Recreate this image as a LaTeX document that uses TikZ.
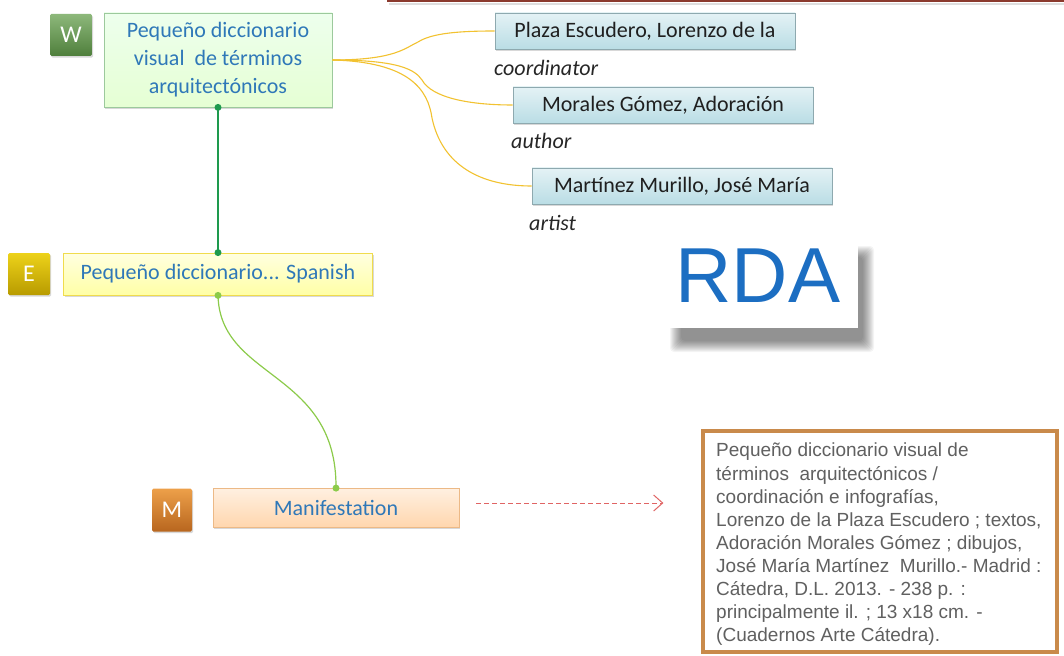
\documentclass[tikz,border=0pt]{standalone}
\usepackage{fontspec}
\setmainfont{Carlito}
\newfontfamily\arialfont{Liberation Sans}
\usetikzlibrary{shadows,arrows.meta}

\definecolor{txtblue}{HTML}{2F78B8}
\definecolor{wgreen}{HTML}{1E9A4E}
\definecolor{egreen}{HTML}{8CCB4A}
\definecolor{goldline}{HTML}{F2C230}
\definecolor{topred}{HTML}{8B3A2E}
\definecolor{dashred}{HTML}{E06464}
\definecolor{biblio}{HTML}{C98A4B}
\definecolor{bibtext}{HTML}{606060}
\definecolor{rdablue}{HTML}{1C6EC2}
\definecolor{agenttop}{HTML}{E4F2F5}
\definecolor{agentbot}{HTML}{BADDE5}
\definecolor{agentdraw}{HTML}{8EA9AF}
\definecolor{wtop}{HTML}{8DB87B}
\definecolor{wbot}{HTML}{4F7F3C}
\definecolor{etop}{HTML}{EDD21A}
\definecolor{ebot}{HTML}{B89B00}
\definecolor{mtop}{HTML}{EDA04A}
\definecolor{mbot}{HTML}{B8661E}

\tikzset{
  boxshadow/.style={drop shadow={opacity=0.3, shadow xshift=1.2pt, shadow yshift=-1.6pt}},
  badge/.style={boxshadow, minimum width=42pt, minimum height=42pt, inner sep=0pt,
    text=white, font=\fontsize{24}{26}\selectfont, rounded corners=1.5pt},
  entbox/.style={boxshadow, inner sep=0pt, text=txtblue, align=center,
    font=\fontsize{22}{28}\selectfont},
  agentbox/.style={boxshadow, draw=agentdraw, line width=0.8pt,
    top color=agenttop, bottom color=agentbot,
    minimum width=300pt, minimum height=36pt, inner sep=0pt,
    text=black!88, font=\fontsize{22}{26}\selectfont},
  role/.style={anchor=west, inner sep=0pt, font=\fontsize{22}{26}\selectfont\itshape, text=black!85},
  agentline/.style={draw=goldline, line width=1.1pt},
  dot/.style={circle, fill=#1, inner sep=0pt, minimum size=7pt},
}

\begin{document}
\begin{tikzpicture}[x=1pt,y=-1pt]
\useasboundingbox (0,0) rectangle (1064,655);
\fill[white] (0,0) rectangle (1064,655);

% edge of a frame along the top
\draw[black!25, line width=2pt, opacity=0.5] (389,4) -- (1064,4);
\draw[topred, line width=2.6pt] (387,1) -- (1064,1);

% soft shadow under the RDA card, built from stacked translucent layers
\foreach \i in {0,1,...,11}
  \fill[black, opacity=0.045, rounded corners=4pt]
    (670+\i,246+\i) rectangle (874-\i,352-\i);

% RDA label card
\node[fill=white, minimum width=198pt, minimum height=96pt, inner sep=0pt] (rdacard) at (759,280) {};
\node[text=rdablue, font=\arialfont\fontsize{78}{80}\selectfont, inner sep=0pt]
      (rda) at (758,276) {RDA};

% Work
\node[badge, top color=wtop, bottom color=wbot] (wb) at (71,35) {W};
\node[entbox, draw=green!30!gray!60, line width=0.8pt,
      top color=green!7!white, bottom color=green!45!lime!17,
      minimum width=228pt, minimum height=94pt] (work) at (218,60)
      {Pequeño diccionario\\visual\ \ de términos\\arquitectónicos};

% Agents and their roles
\node[agentbox] (plaza) at (645,31) {Plaza Escudero, Lorenzo de la};
\node[agentbox] (morales) at (663,105) {Morales Gómez, Adoración};
\node[agentbox] (martinez) at (682,186) {Martínez Murillo, José María};
\node[role] (rcoord) at (494,68) {coordinator};
\node[role] (rauth) at (511,141) {author};
\node[role] (rart) at (529,223) {artist};

\draw[agentline] (work.east) .. controls (395,60) and (405,48) .. (418,42)
                 .. controls (432,33) and (460,31) .. (plaza.west);
\draw[agentline] (work.east) .. controls (400,60) and (415,70) .. (422,80)
                 .. controls (432,98) and (470,105) .. (morales.west);
\draw[agentline] (work.east) .. controls (410,62) and (428,90) .. (432,118)
                 .. controls (442,165) and (480,186) .. (martinez.west);

% Expression
\node[badge, top color=etop, bottom color=ebot] (eb) at (29,274) {E};
\node[entbox, draw=yellow!70!brown!80, line width=0.8pt,
      top color=yellow!12!white, bottom color=yellow!35,
      minimum width=309pt, minimum height=42pt] (expr) at (218,274)
      {Pequeño diccionario... Spanish};

% Manifestation
\node[badge, minimum width=40pt, minimum height=43pt,
      top color=mtop, bottom color=mbot] (mb) at (172,510) {M};
\node[entbox, draw=orange!45!brown!55, line width=0.8pt,
      top color=orange!12!white, bottom color=orange!32,
      minimum width=246pt, minimum height=39pt] (mani) at (336,508) {Manifestation};

% Bibliographic description
\node[draw=biblio, line width=3.2pt, fill=white, minimum width=354pt, minimum height=221pt,
      inner sep=0pt] (desc) at (880,541.5) {};
\node[anchor=north west, inner sep=0pt, align=left, text=bibtext,
      font=\arialfont\fontsize{19}{23.1}\selectfont] (desctext) at (716,443)
{Pequeño diccionario visual de\\
términos\ \ arquitectónicos /\\
coordinación e infografías,\\
Lorenzo de la Plaza Escudero ; textos,\\
Adoración Morales Gómez ; dibujos,\\
José María Martínez\ \ Murillo.- Madrid :\\
Cátedra, D.L. 2013. - 238 p. :\\
principalmente il. ; 13 x18 cm. -\\
(Cuadernos Arte Cátedra).};

% Work -> Expression -> Manifestation links
\draw[wgreen, line width=1.3pt] (work.south) -- (expr.north);
\node[dot=wgreen] at (work.south) {};
\node[dot=wgreen] at (expr.north) {};
\draw[egreen, line width=1.2pt] (expr.south) .. controls (220,380) and (337,370) .. (mani.north);
\node[dot=egreen] at (expr.south) {};
\node[dot=egreen] at (mani.north) {};

% Manifestation -> description
\draw[dashred, line width=1pt, dash pattern=on 5pt off 3pt,
      -{Straight Barb[length=9pt,width=16pt,line width=1pt]}]
  ([xshift=17pt,yshift=5pt]mani.east) -- ([xshift=-38pt,yshift=5pt]desc.west |- mani.east);
\end{tikzpicture}
\end{document}
